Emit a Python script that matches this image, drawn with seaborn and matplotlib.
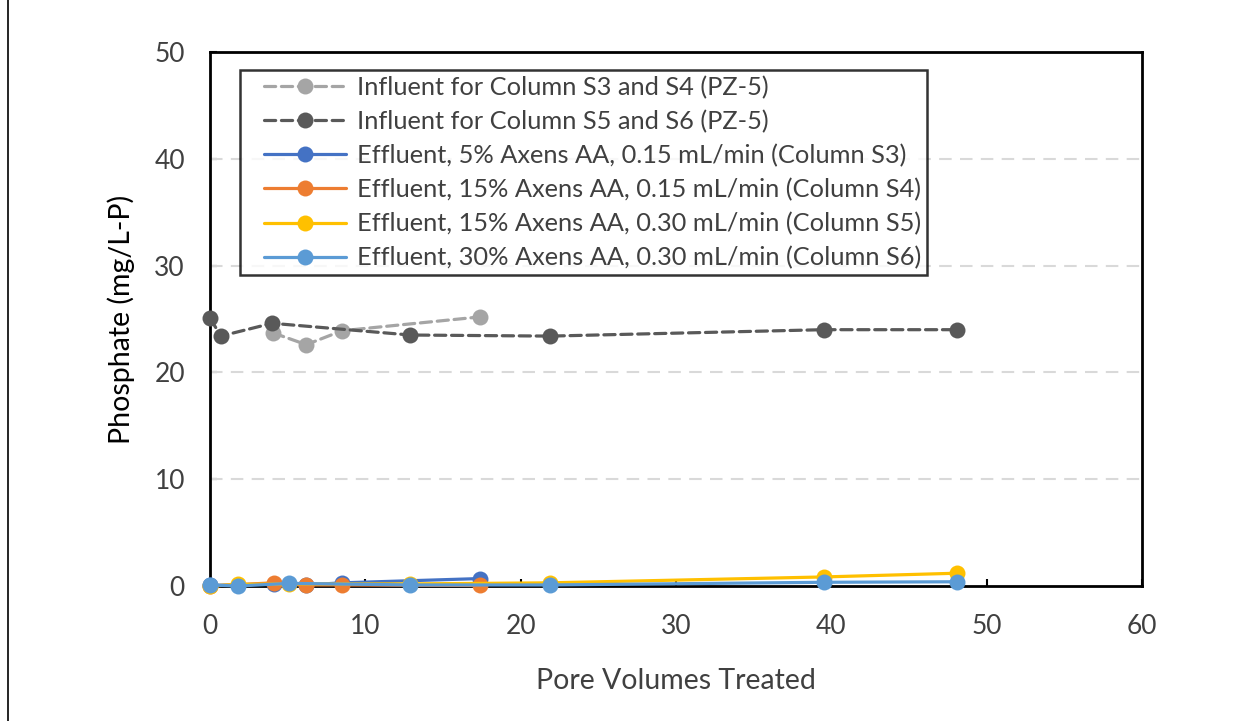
import matplotlib
matplotlib.use("Agg")
import matplotlib.pyplot as plt
import seaborn as sns
import pandas as pd
from matplotlib.lines import Line2D
from matplotlib.legend_handler import HandlerLine2D

sns.set_theme(style="white")
plt.rcParams['font.family'] = ['Lato', 'DejaVu Sans']

# ---- data ----
inf34_x = [4.06, 6.2, 8.5, 17.4]
inf34_y = [23.7, 22.6, 23.9, 25.2]
inf56_x = [0.0, 0.7, 4.0, 12.9, 21.9, 39.5, 48.1]
inf56_y = [25.1, 23.4, 24.6, 23.5, 23.4, 24.0, 24.0]
s3_x = [0.0, 4.1, 6.2, 8.5, 17.4]
s3_y = [0.05, 0.2, 0.1, 0.3, 0.7]
s4_x = [0.0, 4.1, 6.2, 8.5, 17.4]
s4_y = [0.0, 0.3, 0.1, 0.1, 0.05]
s5_x = [0.0, 1.8, 5.1, 12.9, 21.9, 39.5, 48.1]
s5_y = [0.0, 0.15, 0.2, 0.2, 0.3, 0.85, 1.2]
s6_x = [0.0, 1.8, 5.1, 12.9, 21.9, 39.5, 48.1]
s6_y = [0.1, 0.0, 0.25, 0.1, 0.1, 0.35, 0.4]

labels = [
    "Influent for Column S3 and S4 (PZ-5)",
    "Influent for Column S5 and S6 (PZ-5)",
    "Effluent, 5% Axens AA, 0.15 mL/min (Column S3)",
    "Effluent, 15% Axens AA, 0.15 mL/min (Column S4)",
    "Effluent, 15% Axens AA, 0.30 mL/min (Column S5)",
    "Effluent, 30% Axens AA, 0.30 mL/min (Column S6)",
]
colors = ["#A5A5A5", "#595959", "#4472C4", "#ED7D31", "#FFC000", "#5B9BD5"]
dashed = [True, True, False, False, False, False]
xticks = [0, 10, 20, 30, 40, 50, 60]
yticks = [0, 10, 20, 30, 40, 50]

series = [(inf34_x, inf34_y), (inf56_x, inf56_y), (s3_x, s3_y),
          (s4_x, s4_y), (s5_x, s5_y), (s6_x, s6_y)]


class OffsetLineHandler(HandlerLine2D):
    """Line handle drawn over the right part of the handle box."""
    def get_xdata(self, legend, xdescent, ydescent, width, height, fontsize):
        off = 0.72 * fontsize
        x0 = -xdescent + off
        x1 = -xdescent + width
        return [x0, x1], [0.5 * (x0 + x1)]


fig = plt.figure(figsize=(12.58, 7.21), dpi=100)
ax = fig.add_axes([0.1669, 0.1872, 0.7409, 0.7407])

txt = "#404040"
for i, ((xs, ys), lab, col, d) in enumerate(zip(series, labels, colors, dashed)):
    df = pd.DataFrame({"x": xs, "y": ys})
    sns.lineplot(data=df, x="x", y="y", ax=ax, color=col, marker="o",
                 markersize=11.5, markeredgewidth=0, linewidth=2.3,
                 linestyle=(0, (3.5, 1.8)) if d else "-",
                 dash_capstyle="round", label=lab, estimator=None,
                 sort=False, zorder=3 + i, clip_on=False)

ax.set_xlim(0, 60)
ax.set_ylim(0, 50)
ax.set_xticks(xticks)
ax.set_yticks(yticks)
ax.set_xticklabels([str(t) for t in xticks], fontsize=19, color=txt)
ax.set_yticklabels([str(t) for t in yticks], fontsize=19, color=txt)
ax.tick_params(axis="x", direction="in", length=5, width=1.5, color="black", pad=20, bottom=True)
ax.tick_params(axis="y", direction="in", length=5, width=1.5, color="black", pad=18, left=True)
for yv in [10, 20, 30, 40]:
    ax.axhline(yv, color="#D9D9D9", lw=1.5, ls=(0, (6, 4)), zorder=1)
for s in ax.spines.values():
    s.set_visible(True)
    s.set_color("black")
    s.set_linewidth(2)
ax.set_xlabel("Pore Volumes Treated", fontsize=20.5, color=txt, labelpad=21)
ax.set_ylabel("Phosphate (mg/L-P)", fontsize=20.5, color="black", labelpad=14)

handles, labs = ax.get_legend_handles_labels()
leg = ax.legend(handles, labs, loc="upper left", bbox_to_anchor=(0.032, 0.966),
                borderaxespad=0, fontsize=18.3, handlelength=3.95,
                labelspacing=0.425, frameon=True, fancybox=False,
                handletextpad=0.43, borderpad=0.22,
                handler_map={Line2D: OffsetLineHandler()})
leg.get_frame().set_edgecolor("black")
leg.get_frame().set_linewidth(1.8)
for t in leg.get_texts():
    t.set_color(txt)
leg.set_zorder(20)

fig.add_artist(Line2D([8 / 1258, 8 / 1258], [0, 1], color="black", lw=1.2))

fig.savefig("out.png", dpi=100)
